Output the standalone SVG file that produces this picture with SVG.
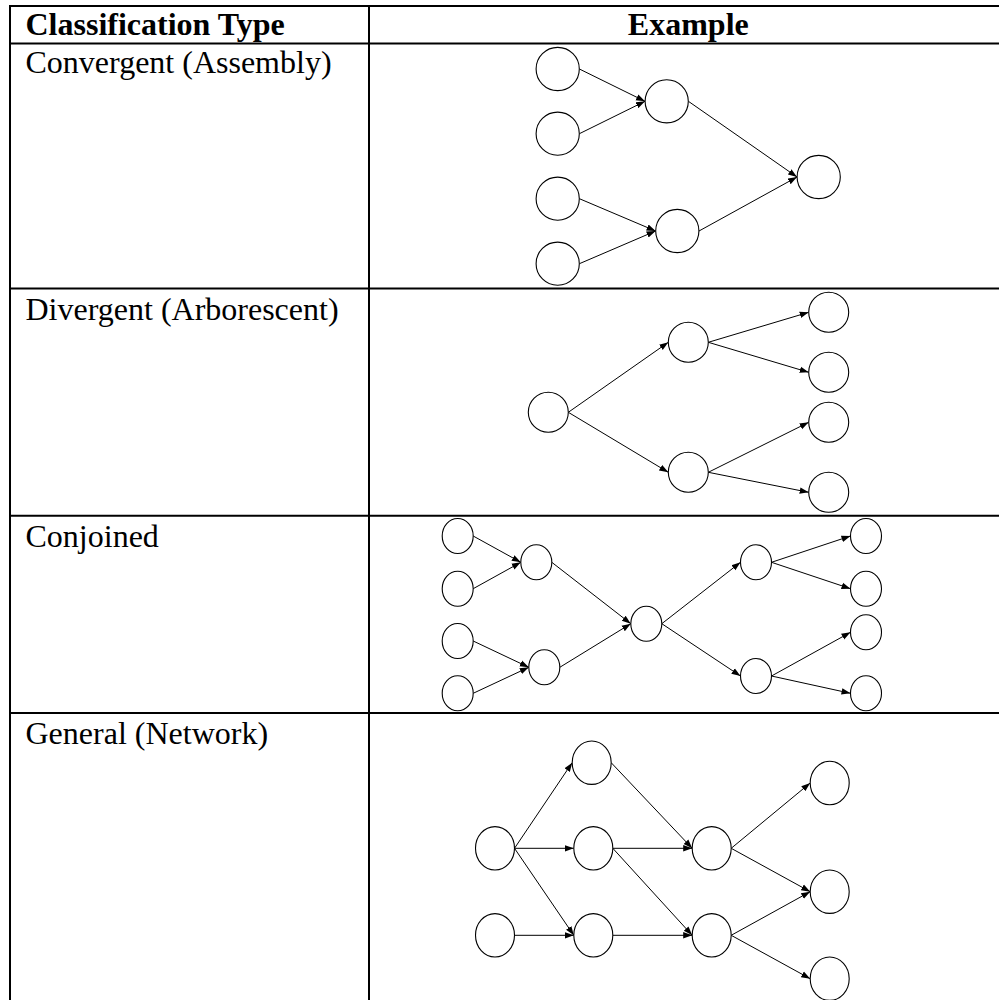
<svg xmlns="http://www.w3.org/2000/svg" width="999" height="1000" viewBox="0 0 999 1000">
<style>
.grid{stroke:#000;stroke-width:2;fill:none}
.n{fill:#fff;stroke:#000;stroke-width:1.1}
.e{stroke:#000;stroke-width:1;fill:none;marker-end:url(#ah)}
.h{font-family:"Liberation Serif","Times New Roman",serif;font-size:32px;font-weight:bold;fill:#000}
.t{font-family:"Liberation Serif","Times New Roman",serif;font-size:32px;fill:#000}
</style>
<defs>
<marker id="ah" markerUnits="userSpaceOnUse" markerWidth="10" markerHeight="8" refX="9" refY="4" orient="auto">
<path d="M0,0.8 L9,4 L0,7.2 z" fill="#000"/>
</marker>
</defs>
<rect width="999" height="1000" fill="#fff"/>
<g id="table">
<line class="grid" x1="9" y1="6" x2="999" y2="6"/>
<line class="grid" x1="9" y1="43.5" x2="999" y2="43.5"/>
<line class="grid" x1="9" y1="288.5" x2="999" y2="288.5"/>
<line class="grid" x1="9" y1="515.7" x2="999" y2="515.7"/>
<line class="grid" x1="9" y1="713" x2="999" y2="713"/>
<line class="grid" x1="10" y1="5" x2="10" y2="1000"/>
<line class="grid" x1="369" y1="5" x2="369" y2="1000"/>
<text class="h" x="25.5" y="35">Classification Type</text>
<text class="h" x="688.3" y="35" text-anchor="middle">Example</text>
<text class="t" x="25.5" y="72.7">Convergent (Assembly)</text>
<text class="t" x="25.5" y="320">Divergent (Arborescent)</text>
<text class="t" x="25.5" y="546.7">Conjoined</text>
<text class="t" x="25.5" y="743.5">General (Network)</text>
</g>
<g id="connectors">
<!-- row 1 -->
<line class="e" x1="579.4" y1="69" x2="645" y2="101.3"/>
<line class="e" x1="579.4" y1="133.7" x2="645" y2="101.3"/>
<line class="e" x1="579.4" y1="198.7" x2="655.6" y2="231"/>
<line class="e" x1="579.4" y1="263.7" x2="655.6" y2="231"/>
<line class="e" x1="688.4" y1="101.3" x2="797" y2="177"/>
<line class="e" x1="699" y1="231" x2="797" y2="177"/>
<!-- row 2 -->
<line class="e" x1="568.3" y1="412.3" x2="668.3" y2="342.3"/>
<line class="e" x1="568.3" y1="412.3" x2="668.3" y2="472.3"/>
<line class="e" x1="708.3" y1="342.3" x2="808.7" y2="312.3"/>
<line class="e" x1="708.3" y1="342.3" x2="808.7" y2="372.3"/>
<line class="e" x1="708.3" y1="472.3" x2="808.7" y2="422.3"/>
<line class="e" x1="708.3" y1="472.3" x2="808.7" y2="492.3"/>
<!-- row 3 -->
<line class="e" x1="473.2" y1="536" x2="520.8" y2="562.3"/>
<line class="e" x1="473.2" y1="588.7" x2="520.8" y2="562.3"/>
<line class="e" x1="473.2" y1="641" x2="528.8" y2="667.3"/>
<line class="e" x1="473.2" y1="693.3" x2="528.8" y2="667.3"/>
<line class="e" x1="551.8" y1="562.3" x2="630.8" y2="623.7"/>
<line class="e" x1="559.8" y1="667.3" x2="630.8" y2="623.7"/>
<line class="e" x1="661.8" y1="623.7" x2="740.5" y2="562.3"/>
<line class="e" x1="661.8" y1="623.7" x2="740.5" y2="676"/>
<line class="e" x1="771.5" y1="562.3" x2="850.5" y2="536"/>
<line class="e" x1="771.5" y1="562.3" x2="850.5" y2="588.7"/>
<line class="e" x1="771.5" y1="676" x2="850.5" y2="632.3"/>
<line class="e" x1="771.5" y1="676" x2="850.5" y2="693.3"/>
<!-- row 4 -->
<line class="e" x1="514.5" y1="848.3" x2="572.2" y2="762.7"/>
<line class="e" x1="514.5" y1="848.3" x2="573.8" y2="848.3"/>
<line class="e" x1="514.5" y1="848.3" x2="573.8" y2="935.3"/>
<line class="e" x1="514.5" y1="935.3" x2="573.8" y2="935.3"/>
<line class="e" x1="611.2" y1="762.7" x2="692.2" y2="848.3"/>
<line class="e" x1="612.8" y1="848.3" x2="692.2" y2="848.3"/>
<line class="e" x1="612.8" y1="848.3" x2="692.2" y2="935.3"/>
<line class="e" x1="612.8" y1="935.3" x2="692.2" y2="935.3"/>
<line class="e" x1="731.2" y1="848.3" x2="810.2" y2="783"/>
<line class="e" x1="731.2" y1="848.3" x2="810.2" y2="891.7"/>
<line class="e" x1="731.2" y1="935.3" x2="810.2" y2="891.7"/>
<line class="e" x1="731.2" y1="935.3" x2="810.2" y2="978.7"/>
</g>
<g id="convergent">
<circle id="A1" class="n" cx="557.7" cy="69" r="21.6"/>
<circle id="A2" class="n" cx="557.7" cy="133.7" r="21.6"/>
<circle id="A3" class="n" cx="557.7" cy="198.7" r="21.6"/>
<circle id="A4" class="n" cx="557.7" cy="263.7" r="21.6"/>
<circle id="B1" class="n" cx="666.7" cy="101.3" r="21.6"/>
<circle id="B2" class="n" cx="677.3" cy="231" r="21.6"/>
<circle id="C" class="n" cx="818.7" cy="177" r="21.6"/>
</g>
<g id="divergent">
<circle id="D0" class="n" cx="548.3" cy="412.3" r="20"/>
<circle id="D1" class="n" cx="688.3" cy="342.3" r="20"/>
<circle id="D2" class="n" cx="688.3" cy="472.3" r="20"/>
<circle id="E1" class="n" cx="828.7" cy="312.3" r="20"/>
<circle id="E2" class="n" cx="828.7" cy="372.3" r="20"/>
<circle id="E3" class="n" cx="828.7" cy="422.3" r="20"/>
<circle id="E4" class="n" cx="828.7" cy="492.3" r="20"/>
</g>
<g id="conjoined">
<ellipse id="F1" class="n" cx="457.7" cy="536" rx="15.5" ry="17.5"/>
<ellipse id="F2" class="n" cx="457.7" cy="588.7" rx="15.5" ry="17.5"/>
<ellipse id="F3" class="n" cx="457.7" cy="641" rx="15.5" ry="17.5"/>
<ellipse id="F4" class="n" cx="457.7" cy="693.3" rx="15.5" ry="17.5"/>
<ellipse id="G1" class="n" cx="536.3" cy="562.3" rx="15.5" ry="17.5"/>
<ellipse id="G2" class="n" cx="544.3" cy="667.3" rx="15.5" ry="17.5"/>
<ellipse id="H" class="n" cx="646.3" cy="623.7" rx="15.5" ry="17.5"/>
<ellipse id="I1" class="n" cx="756" cy="562.3" rx="15.5" ry="17.5"/>
<ellipse id="I2" class="n" cx="756" cy="676" rx="15.5" ry="17.5"/>
<ellipse id="J1" class="n" cx="866" cy="536" rx="15.5" ry="17.5"/>
<ellipse id="J2" class="n" cx="866" cy="588.7" rx="15.5" ry="17.5"/>
<ellipse id="J3" class="n" cx="866" cy="632.3" rx="15.5" ry="17.5"/>
<ellipse id="J4" class="n" cx="866" cy="693.3" rx="15.5" ry="17.5"/>
</g>
<g id="network">
<ellipse id="K1" class="n" cx="495" cy="848.3" rx="19.5" ry="21.7"/>
<ellipse id="K2" class="n" cx="495" cy="935.3" rx="19.5" ry="21.7"/>
<ellipse id="L1" class="n" cx="591.7" cy="762.7" rx="19.5" ry="21.7"/>
<ellipse id="L2" class="n" cx="593.3" cy="848.3" rx="19.5" ry="21.7"/>
<ellipse id="L3" class="n" cx="593.3" cy="935.3" rx="19.5" ry="21.7"/>
<ellipse id="M1" class="n" cx="711.7" cy="848.3" rx="19.5" ry="21.7"/>
<ellipse id="M2" class="n" cx="711.7" cy="935.3" rx="19.5" ry="21.7"/>
<ellipse id="N1" class="n" cx="829.7" cy="783" rx="19.5" ry="21.7"/>
<ellipse id="N2" class="n" cx="829.7" cy="891.7" rx="19.5" ry="21.7"/>
<ellipse id="N3" class="n" cx="829.7" cy="978.7" rx="19.5" ry="21.7"/>
</g>
</svg>
